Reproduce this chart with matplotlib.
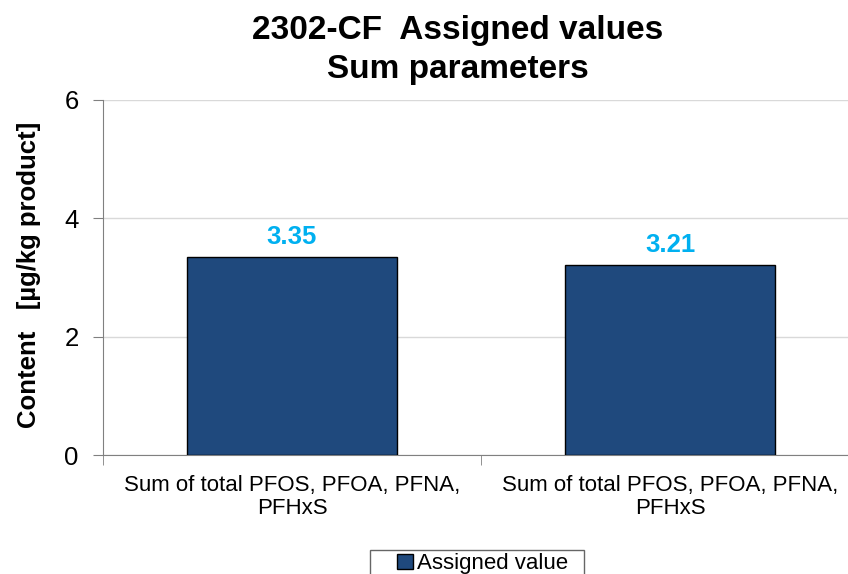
import numpy as np
import matplotlib.pyplot as plt
from matplotlib.patches import Patch, Rectangle
from matplotlib.legend_handler import HandlerPatch

# data
categories = ["Sum of total PFOS, PFOA, PFNA,\nPFHxS", "Sum of total PFOS, PFOA, PFNA,\nPFHxS"]
values = [3.35, 3.21]
value_labels = ["3.35", "3.21"]
title = "2302-CF  Assigned values\nSum parameters"
ylabel = "Content   [µg/kg product]"
legend_label = "Assigned value"

# > style
plt.rcParams["font.family"] = ["Liberation Sans", "DejaVu Sans"]
BAR_COLOR = "#1F497D"
LABEL_COLOR = "#00B0F0"
GRID_COLOR = "#D9D9D9"
AXIS_COLOR = "#808080"
# <


def square_right(legend, orig_handle, xdescent, ydescent, width, height, fontsize):
    # small square at the right end of a wide handle box (gives left padding)
    return Rectangle((width - height - xdescent, -ydescent), height, height)


fig = plt.figure(figsize=(8.48, 5.74), dpi=100)
ax = fig.add_axes([0.1215, 0.2073, 0.8915, 0.6185])

x = np.arange(len(values))
ax.bar(x, values, width=0.555, color=BAR_COLOR, edgecolor="black", linewidth=1.0, zorder=3)
for xi, v, lab in zip(x, values, value_labels):
    ax.text(xi, v + 0.14, lab, ha="center", va="bottom", fontsize=18.5,
            fontweight="bold", color=LABEL_COLOR, zorder=4)

ax.set_xlim(-0.5, 1.5)
ax.set_ylim(0, 6)
ax.set_yticks([0, 2, 4, 6])
ax.yaxis.grid(True, color=GRID_COLOR, linewidth=1.0, zorder=0)
ax.tick_params(axis="y", labelsize=18.5, length=7, color=AXIS_COLOR, pad=10.5)

# category labels + boundary ticks
ax.set_xticks(x)
ax.set_xticklabels(categories, fontsize=16, linespacing=1.1)
ax.tick_params(axis="x", which="major", length=0, pad=14.5)
ax.set_xticks([-0.5, 0.5, 1.5], minor=True)
ax.tick_params(axis="x", which="minor", length=7, color=AXIS_COLOR)

for side in ["top", "right"]:
    ax.spines[side].set_visible(False)
for side in ["left", "bottom"]:
    ax.spines[side].set_color(AXIS_COLOR)

ax.set_ylabel(ylabel, fontsize=18.5, fontweight="bold")
ax.yaxis.set_label_coords(-0.082, 0.507)
fig.text(0.54, 0.974, title, ha="center", va="top", fontsize=24, fontweight="bold",
         linespacing=1.35)

fig.legend(handles=[Patch(facecolor=BAR_COLOR, edgecolor="black", label=legend_label + "  ")],
           handler_map={Patch: HandlerPatch(patch_func=square_right)},
           loc="upper center", bbox_to_anchor=(0.5625, 0.042), fontsize=16,
           frameon=True, fancybox=False, edgecolor="#404040", handlelength=1.75,
           handleheight=0.7, handletextpad=0.2, borderpad=0.15, borderaxespad=0)

fig.savefig("out.png", dpi=100)
